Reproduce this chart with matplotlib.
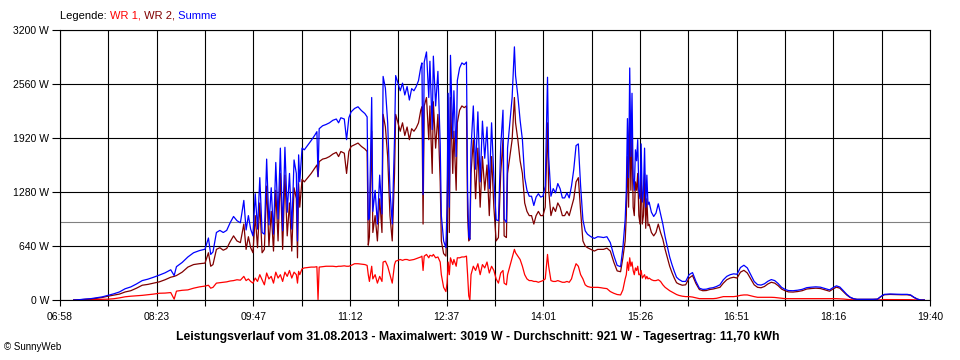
import numpy as np
import matplotlib.pyplot as plt

# minutes since midnight, 31.08.2013
times = [430, 435, 440, 445, 450, 455, 460, 465, 470, 475,
         480, 485, 490, 495, 500, 505, 510, 515, 518, 520, 525,
         530, 535, 540, 545, 548, 550, 552, 555, 558, 561,
         564, 567, 570, 573, 576, 579, 581, 583, 585,
         # 09:47 - 10:30
         587, 589, 591, 593, 595, 597, 599, 601, 603, 605,
         607, 609, 611, 613, 615, 617, 619, 621, 623, 625,
         626, 627, 628, 630,
         # 10:30 - 11:27
         632, 635, 638, 641, 643, 644, 645, 648, 651, 654,
         657, 660, 662, 664, 667, 669, 671, 673, 676, 679,
         682, 685, 687,
         # 11:28 - 13:18
         688, 689, 691, 692, 694, 696, 698, 700, 701, 703,
         705, 707, 709, 711, 712, 714, 716, 718, 720, 722,
         724, 726, 728, 730, 732, 734, 735, 736, 737, 739,
         741, 742, 744, 745, 747, 749, 751, 752, 754, 756,
         757, 758, 759, 760, 762, 763, 765, 766, 768, 770,
         772, 774, 775, 776, 777, 778, 780, 782, 784, 786,
         788, 790, 792, 794, 796, 798,
         # 13:20 - 14:52
         800, 802, 804, 806, 807, 809, 810, 812, 814, 816,
         817, 819, 821, 823, 825, 827, 829, 831, 833, 835,
         837, 839, 841, 843, 845, 846, 848, 850, 852, 854,
         856, 858, 860, 862, 864, 866, 868, 870, 872, 874,
         876, 878, 880, 883, 886, 889, 892,
         # 14:54 - 16:15
         894, 897, 900, 903, 906, 909, 911, 913, 914, 915,
         916, 917, 918, 919, 920, 921, 922, 923, 924, 925,
         926, 927, 928, 929, 930, 931, 932, 933, 934, 936,
         938, 940, 942, 944, 946, 948, 950, 952, 954, 956,
         958, 960, 963, 966, 969, 972, 975,
         # 16:18 - 19:35
         978, 981, 984, 987, 990, 993, 996, 999, 1002, 1005, 1008, 1011,
         1014, 1017, 1020, 1023, 1026, 1029, 1032, 1035, 1038, 1041, 1044, 1047,
         1050, 1053, 1056, 1060, 1064, 1068, 1072, 1076, 1080, 1084, 1088,
         1092, 1095, 1098, 1101, 1104, 1107, 1110,
         1113, 1116, 1120, 1125, 1130, 1134,
         1137, 1140, 1145, 1150, 1155, 1160, 1163, 1166, 1169, 1172, 1175]

wr1 = [0, 1, 3, 4, 6, 7, 10, 15, 25, 38,
       45, 50, 55, 62, 70, 80, 82, 88, 10, 105, 115,
       120, 140, 155, 165, 175, 140, 150, 200, 205, 210,
       215, 225, 230, 240, 235, 280, 230, 250, 220,
       200, 260, 220, 300, 240, 180, 320, 250, 280, 200,
       330, 260, 300, 220, 330, 280, 350, 260, 330, 300,
       200, 340, 300, 370,
       380, 385, 390, 390, 395, 5, 390, 395, 400, 400,
       400, 395, 400, 400, 405, 400, 400, 410, 430, 430,
       425, 420, 410,
       300, 220, 400, 250, 300, 200, 280, 220, 450, 460,
       400, 300, 200, 420, 460, 470, 480, 470, 480, 480,
       470, 475, 480, 490, 500, 510, 520, 350, 520, 540,
       500, 530, 520, 540, 500, 510, 450, 300, 150, 100,
       200, 450, 300, 500, 420, 480, 400, 500, 500, 510,
       510, 520, 300, 50, 0, 300, 400, 350, 430, 300,
       420, 380, 450, 320, 400, 350,
       250, 200, 320, 350, 200, 180, 300, 400, 500, 600,
       560, 520, 480, 400, 300, 250, 230, 230, 220, 220,
       210, 220, 230, 250, 540, 400, 230, 220, 220, 230,
       220, 210, 210, 220, 210, 250, 350, 430, 400, 300,
       250, 180, 160, 150, 150, 150, 145,
       140, 135, 100, 80, 65, 60, 120, 250, 300, 450,
       350, 500, 400, 450, 350, 300, 380, 350, 400, 300,
       300, 350, 260, 280, 300, 250, 280, 250, 260, 240,
       230, 230, 240, 220, 180, 150, 130, 110, 95, 80,
       65, 55, 45, 40, 40, 35, 25,
       16, 16, 16, 16, 16, 20, 30, 40, 40, 40, 40, 45,
       55, 60, 60, 50, 40, 32, 32, 32, 32, 32, 30, 25,
       20, 16, 16, 16, 16, 16, 16, 16, 16, 16, 16,
       16, 16, 16, 14, 12, 8, 4,
       2, 0, 0, 0, 0, 0,
       2, 5, 5, 5, 5, 5, 4, 2, 0, 0, 0]

wr2 = [0, 3, 8, 12, 20, 30, 45, 58, 70, 95,
       110, 140, 175, 185, 200, 215, 240, 270, 280, 290, 330,
       390, 420, 430, 437, 560, 400, 420, 600, 620, 590,
       610, 690, 760, 700, 680, 900, 600, 750, 620,
       560, 1000, 620, 1150, 560, 600, 1350, 640, 1050, 580,
       1300, 700, 1500, 600, 1480, 760, 1150, 580, 1330, 1200,
       500, 1380, 1100, 1430,
       1400, 1450, 1500, 1560, 1600, 1460, 1640, 1670, 1680, 1700,
       1730, 1750, 1700, 1760, 1740, 1500, 1760, 1820, 1840, 1860,
       1820, 1790, 1760,
       650, 750, 2000, 800, 1000, 700, 1200, 800, 2200, 2050,
       1700, 1000, 700, 1500, 2200, 2100, 2000, 2100, 1950, 2050,
       1900, 2030, 2000, 2040, 2100, 2250, 2290, 900, 2300, 2400,
       1900, 2300, 1500, 2350, 1800, 2200, 1400, 700, 550, 520,
       900, 2000, 800, 2400, 1500, 2000, 1300, 2100, 2250, 2300,
       2280, 2300, 1000, 700, 720, 1500, 1900, 1200, 1800, 1100,
       1700, 1300, 1600, 1000, 1700, 1100,
       700, 740, 1500, 1900, 760, 740, 1500, 1700, 1900, 2400,
       2100, 1900, 1650, 1500, 1150, 1050, 1000, 1000, 900, 1000,
       1050, 1000, 1000, 1100, 2100, 1300, 1000, 1100, 1050, 1150,
       1100, 1000, 1000, 1050, 1000, 1100, 1200, 1400, 1450, 1050,
       700, 640, 620, 600, 580, 600, 600,
       600, 615, 580, 450, 345, 335, 500, 700, 1000, 1700,
       1100, 2250, 1300, 2000, 1100, 1000, 1400, 1300, 1500, 1000,
       900, 1500, 900, 1000, 1500, 850, 1200, 880, 900, 800,
       760, 800, 900, 800, 720, 600, 500, 400, 325, 260,
       205, 190, 175, 180, 260, 290, 195,
       124, 110, 112, 124, 130, 140, 150, 200, 240, 260, 270, 260,
       330, 352, 320, 250, 180, 150, 145, 160, 190, 210, 200, 170,
       130, 110, 96, 94, 100, 110, 130, 136, 140, 136, 120,
       104, 130, 152, 140, 100, 60, 30,
       14, 8, 8, 8, 8, 10,
       40, 62, 66, 64, 62, 62, 56, 30, 10, 0, 0]

x_labels = ['06:58', '08:23', '09:47', '11:12', '12:37', '14:01', '15:26', '16:51', '18:16', '19:40']
y_values = [0, 640, 1280, 1920, 2560, 3200]
durchschnitt = 921

assert len(times) == len(wr1) == len(wr2)

summe = np.array(wr1) + np.array(wr2)

plt.rcParams['font.family'] = ['Liberation Sans', 'DejaVu Sans']

fig = plt.figure(figsize=(9.6, 3.6), dpi=100)
ax = fig.add_axes([60 / 960, 60 / 360, 870 / 960, 270 / 360])

ax.plot(times, wr1, color='#ff0000', lw=0.9)
ax.plot(times, wr2, color='#800000', lw=0.9)
ax.plot(times, summe, color='#0000ff', lw=0.9)
ax.axhline(durchschnitt, color='#808080', lw=0.8, zorder=1)

ax.set_xlim(418, 1180)
ax.set_ylim(0, 3200)

grid_x = np.linspace(418, 1180, 2 * len(x_labels) - 1)
ax.set_xticks(grid_x)
tick_text = []
for i in range(len(grid_x)):
    tick_text.append(x_labels[i // 2] if i % 2 == 0 else '')
ax.set_xticklabels(tick_text)
ax.set_yticks(y_values)
ax.set_yticklabels([str(v) + ' W' for v in y_values])

ax.grid(True, color='black', lw=0.8)
for s in ax.spines.values():
    s.set_linewidth(0.8)
ax.tick_params(axis='x', length=4, width=0.8, pad=5, labelsize=7.5)
ax.tick_params(axis='y', length=6, width=0.8, pad=2, labelsize=7.5)

# legend line at the top
t = fig.text(60 / 960, 1 - 16 / 360, 'Legende: ', fontsize=8, va='center')
for txt, col in [('WR 1,', '#ff0000'), (' WR 2,', '#800000'), (' Summe', '#0000ff')]:
    t = ax.annotate(txt, xy=(1, 0), xycoords=t, va='bottom', ha='left', fontsize=8, color=col)

fig.text(0.498, 1 - 337 / 360,
         'Leistungsverlauf vom 31.08.2013 - Maximalwert: 3019 W - Durchschnitt: 921 W - Tagesertrag: 11,70 kWh',
         ha='center', va='center', fontsize=8.8, fontweight='bold')
fig.text(4 / 960, 1 - 347 / 360, '\u00a9 SunnyWeb', fontsize=7, va='center')

plt.savefig('out.png', dpi=100)
